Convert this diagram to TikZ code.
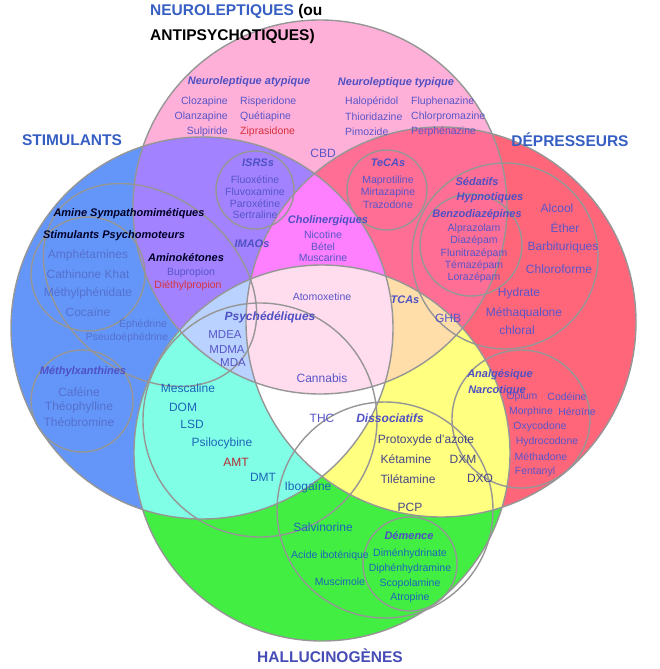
\documentclass[tikz,border=0pt]{standalone}
\usepackage{fontspec}
\setmainfont{Liberation Sans}
\usetikzlibrary{positioning}
\definecolor{cblue}{RGB}{100,150,250}
\definecolor{cred}{RGB}{255,102,122}
\definecolor{cgreen}{RGB}{66,238,66}
\definecolor{cpink}{RGB}{255,176,216}
\definecolor{cpurple}{RGB}{162,130,255}
\definecolor{cpinkred}{RGB}{255,110,148}
\definecolor{ccyan}{RGB}{128,255,230}
\definecolor{cyellow}{RGB}{255,255,128}
\definecolor{cmagenta}{RGB}{255,128,255}
\definecolor{clightblue}{RGB}{185,210,255}
\definecolor{corange}{RGB}{255,222,170}
\definecolor{clightpink}{RGB}{255,220,238}
\definecolor{ringgray}{RGB}{150,150,150}
\definecolor{headblue}{RGB}{55,95,195}
\definecolor{catblue}{RGB}{78,80,195}
\definecolor{drugblue}{RGB}{88,85,200}
\definecolor{stimblue}{RGB}{85,112,205}
\definecolor{tealblue}{RGB}{30,100,185}
\definecolor{slate}{RGB}{70,72,135}
\definecolor{drugred}{RGB}{215,50,60}
\newcommand{\cirP}{(320,207) circle [radius=187]}
\newcommand{\cirB}{(202,328) circle [radius=191]}
\newcommand{\cirR}{(441,322) circle [radius=195]}
\newcommand{\cirG}{(322,453) circle [radius=188]}
\tikzset{
  ring/.style  = {draw=ringgray, line width=1.4pt},
  ttl/.style   = {font=\fontsize{15.5}{18}\selectfont\bfseries, text=headblue, inner sep=0pt},
  cat/.style   = {font=\fontsize{11}{13}\selectfont\bfseries\itshape, text=catblue, inner sep=0pt},
  catb/.style  = {cat, font=\fontsize{12}{14}\selectfont\bfseries\itshape},
  catk/.style  = {cat, text=black!85!blue},
  drg/.style   = {font=\fontsize{10.5}{12}\selectfont, text=drugblue, inner sep=0pt},
  drgl/.style  = {drg, font=\fontsize{12}{14}\selectfont},
  drgr/.style  = {drg, text=drugred},
}
\begin{document}
\begin{tikzpicture}[x=1pt,y=-1pt]
  \useasboundingbox (0,0) rectangle (659,669);
  % main discs
  \fill[cblue] \cirB;
  \fill[cred] \cirR;
  \fill[cgreen] \cirG;
  \fill[cpink] \cirP;
  \begin{scope} \clip \cirB; \fill[cpurple] \cirP; \fill[ccyan] \cirG; \end{scope}
  \begin{scope} \clip \cirR; \fill[cpinkred] \cirP; \fill[cyellow] \cirG; \end{scope}
  \begin{scope} \clip \cirB; \fill[cmagenta] \cirR; \end{scope}
  \begin{scope} \clip \cirB; \clip \cirR; \fill[white] \cirG; \end{scope}
  \begin{scope} \clip \cirP; \clip \cirG;
    \fill[clightblue] \cirB; \fill[corange] \cirR;
    \clip \cirB; \fill[clightpink] \cirR;
  \end{scope}
  \draw[ring] \cirB; \draw[ring] \cirR; \draw[ring] \cirG; \draw[ring] \cirP;
  % inner rings
  \draw[ring] (255,190) circle [radius=39];
  \draw[ring] (387,190) circle [radius=40];
  \draw[ring] (505,256) circle [radius=93];
  \draw[ring] (471,245) circle [radius=51];
  \draw[ring, rotate around={-40:(150,285)}] (150,285) ellipse [x radius=118, y radius=88];
  \draw[ring] (88,274) circle [radius=57];
  \draw[ring] (82,401) circle [radius=51];
  \draw[ring] (260,420) circle [radius=117];
  \draw[ring] (385,510) circle [radius=108];
  \draw[ring] (521,419) circle [radius=69];
  \draw[ring] (410,564) circle [radius=47];

  % titles
  \node[ttl, text=black, anchor=west] (neuro) at (150,11) {\textcolor{headblue}{NEUROLEPTIQUES} (ou};
  \node[ttl, text=black, anchor=west] (antip) at (150,36) {ANTIPSYCHOTIQUES)};
  \node[ttl] (stim) at (72,140) {STIMULANTS};
  \node[ttl] (dep) at (570,140) {DÉPRESSEURS};
  \node[ttl, text=headblue!80!violet] (hallu) at (330,656) {HALLUCINOGÈNES};

  % neuroleptiques
  \node[cat] (natyp) at (249,82) {Neuroleptique atypique};
  \node[cat] (ntyp) at (396,83) {Neuroleptique typique};
  \foreach \d [count=\i from 0] in {Clozapine,Olanzapine,Sulpiride}
    \node[drg, anchor=east] (atl\i) at (228,102+15*\i) {\d};
  \node[drg, anchor=west] (atr0) at (240,102) {Risperidone};
  \node[drg, anchor=west] (atr1) at (240,117) {Quétiapine};
  \node[drgr, anchor=west] (atr2) at (240,132) {Ziprasidone};
  \foreach \d [count=\i from 0] in {Halopéridol,Thioridazine,Pimozide}
    \node[drg, anchor=west] (tyl\i) at (345,102+15*\i) {\d};
  \foreach \d [count=\i from 0] in {Fluphenazine,Chlorpromazine,Perphénazine}
    \node[drg, anchor=west] (tyr\i) at (411,102+15*\i) {\d};
  \node[drgl] (cbd) at (323,153) {CBD};

  % antidepresseurs
  \node[cat] (isrs) at (258,163) {ISRSs};
  \foreach \d [count=\i from 0] in {Fluoxétine,Fluvoxamine,Paroxétine,Sertraline}
    \node[drg] (isrs\i) at (255,180+11.7*\i) {\d};
  \node[cat] (imao) at (252,244) {IMAOs};
  \node[cat] (teca) at (388,163) {TeCAs};
  \foreach \d [count=\i from 0] in {Maprotiline,Mirtazapine,Trazodone}
    \node[drg] (teca\i) at (388,181+12*\i) {\d};
  \node[cat] (tca) at (405,300) {TCAs};
  \node[cat] (choli) at (328,221) {Cholinergiques};
  \foreach \d [count=\i from 0] in {Nicotine,Bétel,Muscarine}
    \node[drg] (choli\i) at (323,235+11.5*\i) {\d};
  \node[drg] (atomox) at (322,297) {Atomoxetine};

  % depresseurs
  \node[cat] (sedat) at (477,182) {Sédatifs};
  \node[cat] (hypno) at (490,198) {Hypnotiques};
  \node[cat] (benzo) at (477,215) {Benzodiazépines};
  \foreach \d [count=\i from 0] in {Alprazolam,Diazépam,Flunitrazépam,Témazépam,Lorazépam}
    \node[drg] (benzo\i) at (474,229+12.2*\i) {\d};
  \node[drgl] (alcool) at (557,208) {Alcool};
  \node[drgl] (ether) at (565,227) {Éther};
  \node[drgl] (barbi) at (563,247) {Barbituriques};
  \node[drgl] (chloro) at (559,269) {Chloroforme};
  \node[drgl] (hydrate) at (519,293) {Hydrate};
  \node[drgl] (metha) at (524,313) {Méthaqualone};
  \node[drgl] (chloral) at (517,330) {chloral};
  \node[drgl] (ghb) at (448,318) {GHB};

  % stimulants
  \node[catk] (amine) at (129,214) {Amine Sympathomimétiques};
  \node[catk] (stimpsy) at (114,236) {Stimulants Psychomoteurs};
  \foreach \d [count=\i from 0] in {Amphétamines,Cathinone Khat,Méthylphénidate,Cocaïne}
    \node[drgl, text=stimblue] (sp\i) at (88,255+19*\i) {\d};
  \node[catk] (aminok) at (186,258) {Aminokétones};
  \node[drg] (bupro) at (191,273) {Bupropion};
  \node[drgr] (diethyl) at (188,286) {Diéthylpropion};
  \node[drg, text=stimblue] (ephed) at (143,324) {Éphédrine};
  \node[drg, text=stimblue] (pseudo) at (127,338) {Pseudoéphédrine};
  \node[cat] (methx) at (83,372) {Méthylxanthines};
  \foreach \d [count=\i from 0] in {Caféine,Théophylline,Théobromine}
    \node[drgl, text=stimblue] (mx\i) at (79,392+15*\i) {\d};

  % psychedeliques
  \node[catb] (psyche) at (270,317) {Psychédéliques};
  \node[drgl, font=\fontsize{11.5}{13}\selectfont] (mdea) at (225,335) {MDEA};
  \node[drgl, font=\fontsize{11.5}{13}\selectfont] (mdma) at (227,350) {MDMA};
  \node[drgl, font=\fontsize{11.5}{13}\selectfont] (mda) at (233,363) {MDA};
  \node[drgl] (cannabis) at (322,378) {Cannabis};
  \node[drgl] (thc) at (322,418) {THC};
  \node[drgl, text=tealblue] (mesca) at (188,388) {Mescaline};
  \node[drgl, text=tealblue] (dom) at (183,407) {DOM};
  \node[drgl, text=tealblue] (lsd) at (192,424) {LSD};
  \node[drgl, text=tealblue] (psilo) at (222,443) {Psilocybine};
  \node[drgl, text=drugred!85!black] (amt) at (236,462) {AMT};
  \node[drgl, text=tealblue] (dmt) at (263,477) {DMT};
  \node[drgl, text=tealblue] (iboga) at (308,487) {Ibogaïne};

  % dissociatifs
  \node[catb] (dissoc) at (390,418) {Dissociatifs};
  \node[drgl, text=slate] (protox) at (426,440) {Protoxyde d'azote};
  \node[drgl, text=slate] (keta) at (406,459) {Kétamine};
  \node[drgl, text=slate] (tilet) at (408,479) {Tilétamine};
  \node[drgl, text=slate] (pcp) at (410,507) {PCP};
  \node[drgl, text=slate] (dxm) at (463,459) {DXM};
  \node[drgl, text=slate] (dxo) at (480,478) {DXO};
  \node[drgl, text=tealblue] (salvi) at (323,527) {Salvinorine};
  \node[drg, text=tealblue] (ibote) at (330,556) {Acide iboténique};
  \node[drg, text=tealblue] (musci) at (340,582) {Muscimole};
  \node[cat] (demence) at (409,536) {Démence};
  \foreach \d [count=\i from 0] in {Diménhydrinate,Diphénhydramine,Scopolamine,Atropine}
    \node[drg, text=tealblue] (dem\i) at (410,554+14.7*\i) {\d};

  % analgesiques
  \node[cat] (analg) at (500,375) {Analgésique};
  \node[cat] (narco) at (497,391) {Narcotique};
  \node[drg] (opium) at (522,397) {Opium};
  \node[drg] (codeine) at (567,397) {Codéine};
  \node[drg] (morph) at (531,412) {Morphine};
  \node[drg] (heroine) at (577,412) {Héroïne};
  \node[drg] (oxy) at (540,427) {Oxycodone};
  \node[drg] (hydro) at (547,442) {Hydrocodone};
  \node[drg] (methad) at (541,457) {Méthadone};
  \node[drg] (fenta) at (535,472) {Fentanyl};
\end{tikzpicture}
\end{document}
